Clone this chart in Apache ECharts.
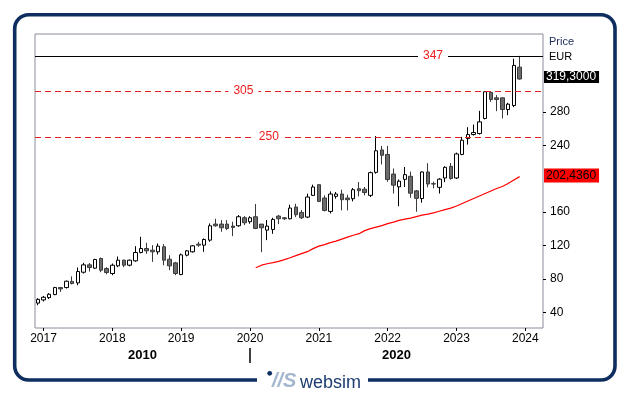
<!DOCTYPE html>
<html>
<head>
<meta charset="utf-8">
<script src="https://cdn.jsdelivr.net/npm/echarts@6/dist/echarts.min.js"></script>
<style>
html,body{margin:0;padding:0;background:#fff;}
#chart{width:629px;height:395px;}
</style>
</head>
<body>
<div id="chart"></div>
<script>
// ---- data ----
const candleStart = '2016-12';
const candleEnd = '2023-12';
const opens = [51,54.8,57.6,61.2,69.6,69.6,77,75.2,88,96.8,
  92.8,104.4,92.4,86.4,95.6,102.4,96.4,101.6,111.6,116.4,
  114.4,112.4,118.4,103.6,99.2,85.2,108.4,112.4,121.6,120.4,
  126.4,145.6,145.6,145.6,143.2,143.6,153.2,148.4,154.4,145.6,
  138.4,139.2,155.2,153.2,152,166,159.6,154,180,192.8,
  176.8,160.8,178.8,181.6,176.8,176,188,187.4,180,207.6,
  234.4,229,205.5,190.2,199.2,202.8,185.4,176.2,208,194,
  189.6,200.8,214.8,200.8,229,248,252.8,254,272,303.2,
  296.8,296.8,282.8,287.6,333.5];
const closes = [55.5,58,61.6,69.6,68,77.2,74.4,88.8,96.8,93.6,
  103.2,90.4,87.6,96.4,102.4,96.4,102.4,111.6,116.4,113.6,
  112.4,119.2,102.4,95.6,86.4,108.8,113.6,119.6,120.4,127.2,
  143.6,143.6,141.2,140.4,141.6,154.4,147.2,153.2,140.4,141.2,
  143.2,151.2,152,152,164.8,156.8,153.2,178,190,172.8,
  162,181.6,181.6,174.8,174.8,186.8,185.6,183.4,207.2,233.4,
  228,199,192.2,197,204.8,182.6,176.4,208,193.6,193.6,
  199.4,213.6,200.2,229.6,246,252.8,255.2,268,304,294.8,
  294.8,282.8,289.2,335.6,319.3];
const lows = [48.5,53,56,60.5,64.4,68.5,73.5,72.4,86.4,88.8,
  92,88,85.5,84.4,94,94,95,100.5,110.5,110,
  100.4,109.2,96.4,90.4,84.4,84.4,107,111.5,118.4,112.4,
  124.4,142.4,136.4,138.4,131.2,142.4,144.4,146,139.6,112,
  126.4,134,145.6,150.4,151.2,154,151.6,152.8,179.2,172,
  160.8,158.4,176,162,162,172.8,178.8,180,178,206,
  217,196.2,182.2,167,190,177.2,160.4,171.2,189.6,188.4,
  182.2,195.8,198.8,199.6,228,240.8,251.6,252.8,271,292,
  280.8,272,276,285.6,318.5];
const highs = [56.8,59.5,63,70.5,70.2,78,83,93.6,99.2,99,
  104,105.6,94,98.4,106.8,103,103,119.2,130.4,123.2,
  120.4,122.4,121.6,108.4,100.4,110.4,114.5,120.5,124.4,128.4,
  146.4,152,150.4,150.4,148.4,156.4,155.2,155,169.6,145.6,
  150.4,153.2,156.4,154,168.8,170,162.4,182,192.8,192.8,
  180,184.8,184,186.8,180.8,188.8,196,190,208.4,251,
  239.2,239.2,212.2,199,214,208.4,186.4,208.6,218.6,196.4,
  200.6,214.8,218.8,231.2,250,261.6,264.8,281.2,304.5,303.5,
  300,297,290.8,343.6,347];
const maStart = '2020-02';
const maEnd = '2023-12';
const maValues = [93.4,96.4,98.1,99.4,101,103,105.3,107.8,110.2,112.6,
  116.2,119.2,121.1,123.4,125.2,127.6,130,132.2,134.1,137.8,
  140.2,142,143.8,146.2,148,150,151.6,152.8,154.6,156.4,
  157.6,159,161,163,164.8,167.2,170.2,173.2,176.2,179.2,
  182.2,185.2,188.2,190.6,194.2,198.4,202.436];
const yearTicks = ['2017','2018','2019','2020','2021','2022','2023','2024'];
const decadeLabels = ['2010','2020'];
const priceTicks = [40,80,120,160,240,280];
const levels = [347,305,250];

// ---- layout ----
const levelLabelX = [79.9, 46.85, 51.28];   // month index where each level's label sits
const xMin = 10.52, xMax = 99.08;

// ---- helpers ----
const toIdx = s => { const [y,m] = s.split('-').map(Number); return (y-2016)*12 + (m-1); };
function monthRange(a, b){ const out=[]; for(let i=toIdx(a); i<=toIdx(b); i++) out.push(i); return out; }
const candleX = monthRange(candleStart, candleEnd);
const maX = monthRange(maStart, maEnd);
const candleData = candleX.map((x,i)=>[x, opens[i], closes[i], lows[i], highs[i]]);
const maData = maX.map((x,i)=>[x, maValues[i]]);
const yearVals = yearTicks.map(y => toIdx(y+'-01'));
const decadeSplit = toIdx('2020-01');
const fmt = v => v.toFixed(4).replace('.', ',');
const FONT = "'Liberation Sans', Arial, sans-serif";
const lastClose = closes[closes.length-1];
const lastMa = maValues[maValues.length-1];
const HIDDEN = {color:'rgba(0,0,0,0)', width:0};

const chart = echarts.init(document.getElementById('chart'), null, {renderer:'canvas'});
chart.setOption({
  animation:false,
  backgroundColor:'#fff',
  textStyle:{fontFamily:FONT},
  grid:{left:35, right:86, top:34, bottom:67, show:true, borderColor:'#8c8c9c', borderWidth:1, backgroundColor:'#fff'},
  xAxis:[{
    type:'value', min:xMin, max:xMax, position:'bottom',
    axisLine:{show:false}, splitLine:{show:false},
    axisTick:{show:true, customValues:yearVals, length:3, lineStyle:{color:'#000'}},
    axisLabel:{customValues:yearVals, formatter:v=>String(2016+Math.round(v/12)), color:'#000', fontSize:12, margin:5, fontFamily:FONT}
  },{
    type:'value', min:xMin, max:xMax, position:'bottom', offset:20,
    axisLine:{show:false}, splitLine:{show:false},
    axisTick:{show:true, customValues:[decadeSplit], length:15, lineStyle:{color:'#000', width:1.5}},
    axisLabel:{customValues:[(xMin+decadeSplit)/2, (decadeSplit+xMax)/2], formatter:v=> v<decadeSplit?decadeLabels[0]:decadeLabels[1], color:'#000', fontSize:13, fontWeight:'bold', margin:1, fontFamily:FONT}
  }],
  yAxis:{
    type:'value', position:'right', min:21.2, max:373.2,
    axisLine:{show:false}, splitLine:{show:false},
    axisTick:{show:true, customValues:priceTicks, length:3, lineStyle:{color:'#000'}},
    axisLabel:{customValues:priceTicks, color:'#000', fontSize:12, margin:7, fontFamily:FONT}
  },
  series:[{
    type:'candlestick',
    data:candleData,
    encode:{x:0, y:[1,2,3,4]},
    barWidth:4,
    itemStyle:{color:'#ffffff', color0:'#6b6b6b', borderColor:'#000', borderColor0:'#3a3a3a', borderWidth:1},
    markLine:{
      silent:true, symbol:'none', animation:false,
      data:[
        {yAxis:levels[0], lineStyle:{color:'#000', type:'solid', width:1}, label:{show:false}},
        {yAxis:levels[1], lineStyle:{color:'#e02020', type:[6,4], width:1}, label:{show:false}},
        {yAxis:levels[2], lineStyle:{color:'#e02020', type:[6,4], width:1}, label:{show:false}},
        {yAxis:lastClose, lineStyle:HIDDEN, label:{show:true, position:'end', distance:1, formatter:fmt(lastClose), backgroundColor:'#000', color:'#fff', fontSize:12, lineHeight:12, padding:[0,3,0,2], offset:[0,-2], fontFamily:FONT}}
      ]
    },
    markPoint:{
      silent:true, animation:false, symbol:'rect', symbolSize:[30,12],
      itemStyle:{color:'#fff'},
      label:{show:true, position:'inside', color:'#ee1c1c', fontSize:12, fontFamily:FONT, formatter:p=>p.name},
      data:levels.map((v,i)=>({name:String(v), coord:[levelLabelX[i], v]}))
    }
  },{
    type:'line',
    data:maData,
    showSymbol:false,
    lineStyle:{color:'#ff0000', width:1.2},
    itemStyle:{color:'#ff0000'},
    markLine:{
      silent:true, symbol:'none', animation:false,
      data:[{yAxis:lastMa, lineStyle:HIDDEN, label:{show:true, position:'end', distance:1, formatter:fmt(lastMa), backgroundColor:'#ff0000', color:'#000', fontSize:12, lineHeight:14, padding:[0,3,0,2], offset:[0,-1], fontFamily:FONT}}]
    }
  }],
  graphic:[
    {type:'rect', shape:{x:14.7, y:14.7, width:600.3, height:365.3, r:14}, style:{fill:'none', stroke:'#0d2e5f', lineWidth:3.6}, z:100},
    {type:'rect', shape:{x:257, y:374, width:111, height:10}, style:{fill:'#fff'}, z:101},
    {type:'circle', shape:{cx:269.7, cy:373.3, r:2.4}, style:{fill:'#0d2e5f'}, z:102},
    {type:'text', x:272, y:381, style:{text:'//S', font:"italic bold 20px 'Liberation Sans', Arial, sans-serif", fill:'#a3b6cf', verticalAlign:'middle'}, z:102},
    {type:'text', x:300, y:383, style:{text:'websim', font:"18px 'Liberation Sans', Arial, sans-serif", fill:'#1c3c70', verticalAlign:'middle'}, z:102},
    {type:'text', x:549, y:41.5, style:{text:'Price', font:"11px 'Liberation Sans', Arial, sans-serif", fill:'#1b2a5a', verticalAlign:'middle'}, z:102},
    {type:'text', x:549, y:57, style:{text:'EUR', font:"11px 'Liberation Sans', Arial, sans-serif", fill:'#000', verticalAlign:'middle'}, z:102}
  ]
});
</script>
</body>
</html>
